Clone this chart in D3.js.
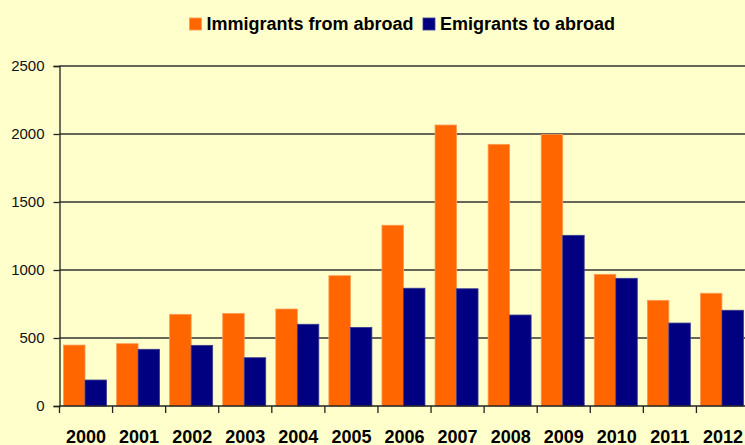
<!DOCTYPE html>
<html>
<head>
<meta charset="utf-8">
<script src="https://cdn.jsdelivr.net/npm/d3@7"></script>
<style>
  html, body { margin: 0; padding: 0; background: #FFFFCC; }
  svg { display: block; font-family: "Liberation Sans", Arial, sans-serif; }
</style>
</head>
<body>
<div id="plot"></div>
<script>
// chart values
const years = ['2000','2001','2002','2003','2004','2005','2006','2007','2008','2009','2010','2011','2012'];
const immigrants = [448, 458, 674, 681, 713, 958, 1329, 2066, 1924, 1996, 968, 777, 829];
const emigrants  = [191, 417, 446, 355, 601, 578, 866, 862, 669, 1255, 939, 610, 704];
const seriesNames = ['Immigrants from abroad', 'Emigrants to abroad'];
const seriesColors = ['#FF6600', '#000080'];
const yTicks = [0, 500, 1000, 1500, 2000, 2500];

window.addEventListener('load', main);

function main(){
  let [ figWidth, figHeight ] = [745, 445];
  let svg = d3.select('#plot').append('svg')
              .attr('width', figWidth)
              .attr('height', figHeight);

  svg.append('rect').attr('width', figWidth).attr('height', figHeight).attr('fill', '#FFFFCC');

  // scales
  let scX = d3.scaleBand().domain(years).range([59.5, 749.5]);
  let scSeries = d3.scaleBand().domain(seriesNames).range([4, 47]);
  let scY = d3.scaleLinear().domain([0, 2500]).range([406, 66]);

  // gridlines
  svg.append('g')
     .selectAll('line')
     .data(yTicks.filter(d => d > 0))
     .join('line')
       .attr('x1', 59.5).attr('x2', figWidth)
       .attr('y1', d => scY(d)).attr('y2', d => scY(d))
       .attr('stroke', '#333').attr('stroke-width', 1.3);

  // bars
  let rows = years.map((y, i) => ({ year: y, values: [immigrants[i], emigrants[i]] }));
  let groups = svg.append('g').selectAll('g')
                  .data(rows)
                  .join('g')
                  .attr('transform', d => `translate(${scX(d.year)},0)`);
  groups.selectAll('rect')
        .data(d => d.values.map((v, k) => ({ name: seriesNames[k], value: v, k: k })))
        .join('rect')
          .attr('x', d => scSeries(d.name))
          .attr('width', scSeries.bandwidth())
          .attr('y', d => scY(d.value))
          .attr('height', d => scY(0) - scY(d.value))
          .attr('fill', d => seriesColors[d.k])
          .attr('stroke', d => d.k === 0 ? '#FF9A50' : '#3A3A90')
          .attr('stroke-width', 0.8);

  // y axis
  let yAxis = d3.axisLeft(scY).tickValues(yTicks).tickSize(6).tickPadding(9).tickFormat(d3.format('d'));
  let gy = svg.append('g').attr('transform', 'translate(59.5,0)').call(yAxis);
  gy.select('.domain').attr('stroke', '#222').attr('stroke-width', 1.3);
  gy.selectAll('.tick line').attr('stroke', '#222').attr('stroke-width', 1.3);
  gy.selectAll('.tick text').attr('font-size', 15).attr('fill', '#111')
    .attr('font-family', '"Liberation Sans", Arial, sans-serif');

  // x axis: ticks on category boundaries, labels centred
  let gx = svg.append('g');
  gx.append('line')
    .attr('x1', 59.5).attr('x2', figWidth)
    .attr('y1', scY(0)).attr('y2', scY(0))
    .attr('stroke', '#222').attr('stroke-width', 1.3);
  gx.selectAll('line.tk')
    .data(years)
    .join('line').attr('class', 'tk')
      .attr('x1', d => scX(d)).attr('x2', d => scX(d))
      .attr('y1', scY(0)).attr('y2', scY(0) + 7)
      .attr('stroke', '#222').attr('stroke-width', 1.3);
  gx.selectAll('text')
    .data(years)
    .join('text')
      .attr('x', d => scX(d) + scX.bandwidth() / 2)
      .attr('y', 442.5)
      .attr('text-anchor', 'middle')
      .attr('font-size', 18).attr('font-weight', 'bold').attr('fill', '#000')
      .text(d => d);

  // legend
  let legendX = [189.5, 423];
  let legend = svg.append('g').selectAll('g')
                  .data(seriesNames)
                  .join('g')
                  .attr('transform', (d, i) => `translate(${legendX[i]},18)`);
  legend.append('rect')
        .attr('width', 12).attr('height', 12)
        .attr('fill', (d, i) => seriesColors[i])
        .attr('stroke', (d, i) => i === 0 ? '#FF9A50' : '#3A3A90')
        .attr('stroke-width', 0.8);
  legend.append('text')
        .attr('x', 17).attr('y', 12.3)
        .attr('font-size', 18).attr('font-weight', 'bold').attr('fill', '#000')
        .text(d => d);
}
</script>
</body>
</html>
